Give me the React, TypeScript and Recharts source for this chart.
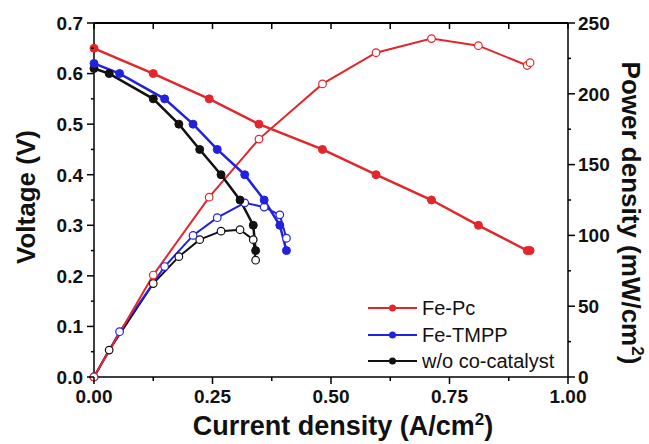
import { ComposedChart, Label, Legend, Line, XAxis, YAxis } from "recharts";

// Fe-Pc
const pcCurrent = [0, 0.125, 0.243, 0.348, 0.482, 0.595, 0.712, 0.811, 0.914, 0.92];
const pcVoltage = [0.65, 0.6, 0.55, 0.5, 0.45, 0.4, 0.35, 0.3, 0.25, 0.25];
const pcPower = [0, 72, 127, 168, 207, 229, 239, 234, 220, 222];

// Fe-TMPP
const tmppCurrent = [0, 0.054, 0.149, 0.209, 0.26, 0.318, 0.359, 0.392, 0.406];
const tmppVoltage = [0.62, 0.6, 0.55, 0.5, 0.45, 0.4, 0.35, 0.3, 0.25];
const tmppPower = [0, 32, 78, 100, 112.5, 123, 120, 114.5, 98];

// w/o co-catalyst
const bareCurrent = [0, 0.032, 0.125, 0.179, 0.223, 0.268, 0.308, 0.336, 0.341];
const bareVoltage = [0.61, 0.6, 0.55, 0.5, 0.45, 0.4, 0.35, 0.3, 0.25];
const barePower = [0, 19, 66, 85, 97, 103, 104, 97, 82.5];

const currentTicks = [0, 0.125, 0.25, 0.375, 0.5, 0.625, 0.75, 0.875, 1];
const voltageTicks = [0, 0.05, 0.1, 0.15, 0.2, 0.25, 0.3, 0.35, 0.4, 0.45, 0.5, 0.55, 0.6, 0.65, 0.7];
const powerTicks = [0, 25, 50, 75, 100, 125, 150, 175, 200, 225, 250];

const seriesNames = ["Fe-Pc", "Fe-TMPP", "w/o co-catalyst"];

const COLORS = ["#e3262b", "#2222dd", "#111111"];
const FONT = '"Liberation Sans", Arial, Helvetica, sans-serif';
const W = 649;
const H = 444;
const TOP = 23;
const LEFT_W = 94;
const RIGHT_W = 81;
const I_DOMAIN = [0, 1];

const rows = (cur: number[], v: number[], p: number[]) => cur.map((i, k) => ({ i, v: v[k], p: p[k] }));
const pcRows = rows(pcCurrent, pcVoltage, pcPower);
const tmppRows = rows(tmppCurrent, tmppVoltage, tmppPower);
const bareRows = rows(bareCurrent, bareVoltage, barePower);

const isStep = (v: number, per: number) => Math.abs(v * per - Math.round(v * per)) < 1e-6;

function BottomTick({ x, y, payload }: any) {
  const v = payload.value;
  const major = isStep(v, 4);
  return (
    <g>
      <line x1={x} x2={x} y1={y} y2={y + (major ? 7 : 4)} stroke="#000" strokeWidth={1.5} />
      {major && (
        <text x={x} y={y + 26} textAnchor="middle" fontFamily={FONT} fontWeight="bold" fontSize={19} fill="#111">
          {v.toFixed(2)}
        </text>
      )}
    </g>
  );
}

function LeftTick({ x, y, payload }: any) {
  const v = payload.value;
  const major = isStep(v, 10);
  return (
    <g>
      <line x1={x - (major ? 7 : 3)} x2={x} y1={y} y2={y} stroke="#000" strokeWidth={1.5} />
      {major && (
        <text x={x - 11} y={y} dy="0.36em" textAnchor="end" fontFamily={FONT} fontWeight="bold" fontSize={19} fill="#111">
          {v.toFixed(1)}
        </text>
      )}
    </g>
  );
}

function RightTick({ x, y, payload }: any) {
  const v = payload.value;
  const major = v % 50 === 0;
  return (
    <g>
      <line x1={x} x2={x + (major ? 7 : 3)} y1={y} y2={y} stroke="#000" strokeWidth={1.5} />
      {major && (
        <text x={x + 10} y={y} dy="0.36em" textAnchor="start" fontFamily={FONT} fontWeight="bold" fontSize={19} fill="#111">
          {v}
        </text>
      )}
    </g>
  );
}

function BottomTitle({ viewBox }: any) {
  const { x, y, width } = viewBox;
  return (
    <text x={x + width / 2 + 12} y={y + 58} textAnchor="middle" {...titleStyle} fontSize={27}>
      Current density (A/cm
      <tspan dy={-10} fontSize={17}>2</tspan>
      <tspan dy={10}>)</tspan>
    </text>
  );
}

// top edge of the frame with inward ticks, laid over the chart
function TopFrame() {
  const left = LEFT_W;
  const width = W - LEFT_W - RIGHT_W;
  const at = (t: number) => left + ((t - I_DOMAIN[0]) / (I_DOMAIN[1] - I_DOMAIN[0])) * width;
  return (
    <svg width={W} height={H} style={{ position: "absolute", left: 0, top: 0, zIndex: 2, pointerEvents: "none" }}>
      <line x1={left} x2={left + width} y1={TOP} y2={TOP} stroke="#000" strokeWidth={2} />
      {currentTicks.map((t) => (
        <line key={t} x1={at(t)} x2={at(t)} y1={TOP} y2={TOP + 6} stroke="#000" strokeWidth={1.5} />
      ))}
    </svg>
  );
}

function LegendBox() {
  return (
    <div style={{ fontFamily: FONT, fontSize: 20, color: "#111", lineHeight: 1 }}>
      {seriesNames.map((n, k) => (
        <div key={n} style={{ display: "flex", alignItems: "center", height: 26.5 }}>
          <svg width={49} height={10} style={{ display: "block" }}>
            <line x1={0} x2={49} y1={5} y2={5} stroke={COLORS[k]} strokeWidth={2} />
            <circle cx={24.5} cy={5} r={3.5} fill={COLORS[k]} />
          </svg>
          <span style={{ marginLeft: 5 }}>{n}</span>
        </div>
      ))}
    </div>
  );
}

const titleStyle = { fontFamily: FONT, fontWeight: "bold" as const, fontSize: 26, fill: "#111" };

export default function App() {
  const sets = [bareRows, tmppRows, pcRows];
  const colorOf = [2, 1, 0];
  return (
    <div style={{ position: "absolute", left: 0, top: 0, width: W, height: H, background: "#fff" }}>
      <ComposedChart width={W} height={H} margin={{ top: TOP, right: 0, bottom: 0, left: 0 }}>
        <XAxis
          dataKey="i"
          type="number"
          domain={I_DOMAIN}
          ticks={currentTicks}
          interval={0}
          height={67}
          tickSize={0}
          tickMargin={0}
          tick={<BottomTick />}
          axisLine={{ stroke: "#000", strokeWidth: 1.5 }}
        >
          <Label content={BottomTitle} />
        </XAxis>
        <YAxis
          yAxisId="v"
          type="number"
          domain={[0, 0.7]}
          ticks={voltageTicks}
          interval={0}
          width={LEFT_W}
          tickSize={0}
          tickMargin={0}
          tick={<LeftTick />}
          axisLine={{ stroke: "#000", strokeWidth: 1.5 }}
        >
          <Label
            content={({ viewBox }: any) => {
              const cx = viewBox.x + 35;
              const cy = viewBox.y + viewBox.height / 2 - 3;
              return (
                <text x={cx} y={cy} textAnchor="middle" transform={`rotate(-90 ${cx} ${cy})`} {...titleStyle}>
                  Voltage (V)
                </text>
              );
            }}
          />
        </YAxis>
        <YAxis
          yAxisId="p"
          orientation="right"
          type="number"
          domain={[0, 250]}
          ticks={powerTicks}
          interval={0}
          width={RIGHT_W}
          tickSize={0}
          tickMargin={0}
          tick={<RightTick />}
          axisLine={{ stroke: "#000", strokeWidth: 1.5 }}
        >
          <Label
            content={({ viewBox }: any) => {
              const cx = viewBox.x + 54;
              const cy = viewBox.y + viewBox.height / 2 + 13;
              return (
                <text x={cx} y={cy} textAnchor="middle" transform={`rotate(90 ${cx} ${cy})`} {...titleStyle}>
                  Power density (mW/cm
                  <tspan dy={-10} fontSize={17}>2</tspan>
                  <tspan dy={10}>)</tspan>
                </text>
              );
            }}
          />
        </YAxis>
        <Legend
          layout="vertical"
          align="center"
          verticalAlign="middle"
          content={<LegendBox />}
          wrapperStyle={{ left: 368, top: 295, width: 220, height: 80 }}
        />
        {sets.map((d, k) => (
          <Line
            key={`p${k}`}
            data={d}
            yAxisId="p"
            dataKey="p"
            type="linear"
            stroke={COLORS[colorOf[k]]}
            strokeWidth={2}
            dot={{ r: 3.8, fill: "#fff", stroke: COLORS[colorOf[k]], strokeWidth: 1.2 }}
            activeDot={false}
            isAnimationActive={false}
          />
        ))}
        {sets.map((d, k) => (
          <Line
            key={`v${k}`}
            data={d}
            yAxisId="v"
            dataKey="v"
            type="linear"
            stroke={COLORS[colorOf[k]]}
            strokeWidth={2.5}
            dot={{ r: 4, fill: COLORS[colorOf[k]], stroke: COLORS[colorOf[k]], strokeWidth: 1 }}
            activeDot={false}
            isAnimationActive={false}
          />
        ))}
      </ComposedChart>
      <TopFrame />
    </div>
  );
}
